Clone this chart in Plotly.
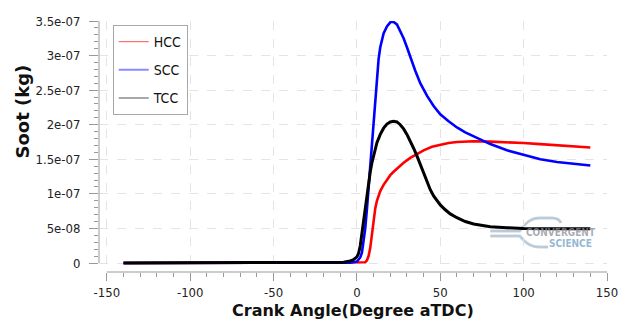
import plotly.graph_objects as go

# Crank angle (deg aTDC) and soot mass (kg) for each combustion chamber
hcc_angle = [-140, 4, 5, 6, 7, 8, 9, 10, 11, 12, 13, 14, 16, 18, 20, 22, 25, 28, 32, 36,
             40, 45, 50, 55, 60, 65, 70, 80, 90, 100, 110, 120, 130, 140]
hcc_soot = [0, 0, 0.01, 0.04, 0.10, 0.22, 0.42, 0.62, 0.79, 0.90, 0.98, 1.04, 1.13, 1.21,
            1.27, 1.32, 1.39, 1.45, 1.52, 1.58, 1.63, 1.68, 1.71, 1.735, 1.75, 1.755, 1.76,
            1.755, 1.75, 1.735, 1.72, 1.70, 1.685, 1.67]

scc_angle = [-140, -10, -4, 0, 2, 3, 4, 5, 6, 7, 8, 9, 10, 11, 12, 13, 14, 15, 16, 18, 20,
             21, 22, 24, 26, 28, 30, 32, 35, 38, 42, 46, 50, 55, 60, 65, 70, 75, 80, 90, 100,
             110, 120, 130, 140]
scc_soot = [0, 0, 0.005, 0.02, 0.08, 0.15, 0.30, 0.50, 0.78, 1.10, 1.42, 1.75, 2.10, 2.42,
            2.72, 2.95, 3.12, 3.23, 3.32, 3.42, 3.48, 3.49, 3.485, 3.45, 3.36, 3.25, 3.12,
            2.97, 2.78, 2.60, 2.42, 2.27, 2.15, 2.05, 1.96, 1.89, 1.83, 1.77, 1.72, 1.63,
            1.56, 1.50, 1.46, 1.43, 1.41]

tcc_angle = [-140, -15, -8, -4, -2, 0, 1, 2, 3, 4, 5, 6, 7, 8, 9, 10, 11, 12, 14, 16, 18,
             20, 22, 24, 26, 28, 30, 32, 34, 36, 38, 40, 42, 44, 46, 48, 50, 53, 56, 60, 65,
             70, 75, 80, 90, 100, 120, 140]
tcc_soot = [0, 0, 0.01, 0.03, 0.05, 0.09, 0.14, 0.25, 0.43, 0.62, 0.83, 1.00, 1.17, 1.32,
            1.45, 1.56, 1.65, 1.74, 1.86, 1.95, 2.01, 2.04, 2.05, 2.04, 2.00, 1.94, 1.86,
            1.77, 1.66, 1.55, 1.42, 1.30, 1.17, 1.06, 0.97, 0.90, 0.84, 0.77, 0.71, 0.655,
            0.60, 0.565, 0.54, 0.525, 0.51, 0.50, 0.495, 0.495]

SCALE = 1e-7  # soot values above are in units of 1e-7 kg

y_tickvals = [0, 5e-8, 1e-7, 1.5e-7, 2e-7, 2.5e-7, 3e-7, 3.5e-7]
y_ticktext = ["0", "5e-08", "1e-07", "1.5e-07", "2e-07", "2.5e-07", "3e-07", "3.5e-07"]
x_tickvals = [-150, -100, -50, 0, 50, 100, 150]
x_ticktext = ["-150", "-100", "-50", "0", "50", "100", "150"]

series = [
    ("HCC", hcc_angle, hcc_soot, "#ff0000", 2.6, "#ff7070", 1.2),
    ("SCC", scc_angle, scc_soot, "#0000ff", 2.6, "#8a8aff", 2.0),
    ("TCC", tcc_angle, tcc_soot, "#000000", 3.0, "#555555", 1.2),
]

fig = go.Figure()
for name, xs, ys, color, width, lcolor, lwidth in series:
    fig.add_trace(go.Scatter(
        x=xs, y=[v * SCALE for v in ys], mode="lines", name=name,
        line=dict(color=color, width=width), showlegend=False,
    ))
# legend swatches (thin lines)
for name, xs, ys, color, width, lcolor, lwidth in series:
    fig.add_trace(go.Scatter(
        x=[None], y=[None], mode="lines", name=name, legendgroup=name,
        line=dict(color=lcolor, width=lwidth),
    ))

W, H = 630, 327
L, R, T, B = 99, 13, 21, 55
pw, ph = W - L - R, H - T - B


def px(x):
    return (x - L) / pw


def py(y):
    return (H - B - y) / ph


tick_font = dict(family="DejaVu Sans Condensed, DejaVu Sans", size=13, color="#222222")
grid = dict(showgrid=True, gridcolor="#e4e4e4", griddash="dash", gridwidth=1)

fig.update_xaxes(
    range=[-154.7, 150], tickvals=x_tickvals, ticktext=x_ticktext, ticks="outside",
    ticklen=8, tickcolor="#999999", tickfont=tick_font, showline=False, zeroline=False,
    ticklabelstandoff=0,
    minor=dict(tickvals=list(range(-150, 151, 10)), ticks="outside", ticklen=4,
               tickcolor="#999999", showgrid=False),
    **grid,
)
fig.update_yaxes(
    range=[-1.3e-8, 3.5e-7], tickvals=y_tickvals, ticktext=y_ticktext,
    ticks="outside", ticklen=9, tickcolor="#999999", tickfont=tick_font,
    showline=False, zeroline=False, ticklabelstandoff=6,
    minor=dict(tickvals=[k * 1e-8 for k in range(0, 36)], ticks="outside", ticklen=4,
               tickcolor="#999999", showgrid=False),
    **grid,
)

# detached axis lines
fig.add_shape(type="line", xref="x", yref="paper", x0=-150, x1=150, y0=0, y1=0,
              line=dict(color="#999999", width=1))
fig.add_shape(type="line", xref="paper", yref="y", x0=0, x1=0, y0=0, y1=3.5e-7,
              line=dict(color="#999999", width=1))

# watermark swoosh
upper = (f"M {px(498)},{py(231)} L {px(528)},{py(231)} "
         f"C {px(535)},{py(222)} {px(540)},{py(218)} {px(548)},{py(218)} "
         f"L {px(561)},{py(218)} C {px(566)},{py(218)} {px(569)},{py(220)} {px(570)},{py(223)}")
lower = (f"M {px(498)},{py(236)} L {px(528)},{py(236)} "
         f"C {px(535)},{py(244)} {px(540)},{py(247)} {px(548)},{py(247)} "
         f"L {px(557)},{py(247)}")
for path in (upper, lower):
    fig.add_shape(type="path", xref="paper", yref="paper", path=path, layer="below",
                  line=dict(color="#c3d6e4", width=3))
    fig.add_shape(type="path", xref="paper", yref="paper", path=path, layer="below",
                  line=dict(color="#b5b9bd", width=0.8))

fig.add_annotation(text="<b>CONVERGENT</b>", xref="paper", yref="paper",
                   x=px(570), y=py(232), showarrow=False, xanchor="center", yanchor="middle",
                   font=dict(family="DejaVu Sans Condensed, DejaVu Sans", size=10,
                             color="rgba(140,145,150,0.75)"))
fig.add_annotation(text="<b>SCIENCE</b>", xref="paper", yref="paper",
                   x=px(580), y=py(243), showarrow=False, xanchor="center", yanchor="middle",
                   font=dict(family="DejaVu Sans Condensed, DejaVu Sans", size=10,
                             color="rgba(120,165,200,0.8)"))

# axis titles
fig.add_annotation(text="<b>Crank Angle(Degree aTDC)</b>", xref="paper", yref="paper",
                   x=px(358), y=py(310), showarrow=False, xanchor="center", yanchor="middle",
                   font=dict(family="DejaVu Sans", size=16, color="#111111"))
fig.add_annotation(text="<b>Soot (kg)</b>", xref="paper", yref="paper",
                   x=px(20), y=py(112), showarrow=False, xanchor="center", yanchor="middle",
                   textangle=-90, font=dict(family="DejaVu Sans", size=18, color="#111111"))

fig.update_layout(
    width=W, height=H,
    margin=dict(l=L, r=R, t=T, b=B),
    paper_bgcolor="white", plot_bgcolor="white",
    legend=dict(
        x=px(113), y=py(25), xanchor="left", yanchor="top",
        bgcolor="white", bordercolor="#a8a8a8", borderwidth=1,
        font=dict(family="DejaVu Sans Condensed, DejaVu Sans", size=14, color="#111111"),
        traceorder="grouped", tracegroupgap=7, itemwidth=30,
    ),
)

fig.write_html("out.html")
